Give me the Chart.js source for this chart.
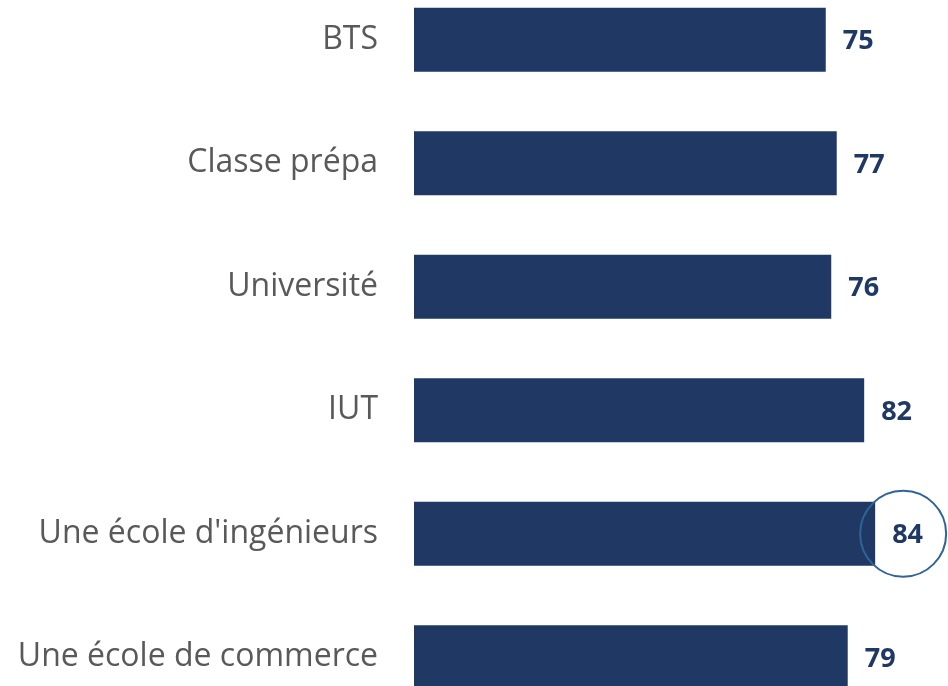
<!DOCTYPE html>
<html>
<head>
<meta charset="utf-8">
<script src="https://cdn.jsdelivr.net/npm/chart.js@4/dist/chart.umd.min.js"></script>
<style>
  html, body { margin: 0; padding: 0; background: #ffffff; overflow: hidden; width: 948px; height: 686px; }
  #wrap { position: absolute; left: 0; top: -22px; width: 963px; height: 741px; }
</style>
</head>
<body>
<div id="wrap"><canvas id="c"></canvas></div>
<script>
const categories = ['BTS', 'Classe prépa', 'Université', 'IUT', "Une école d'ingénieurs", 'Une école de commerce'];
const values = [75, 77, 76, 82, 84, 79];
const highlighted = ["Une école d'ingénieurs"];

const NAVY = '#203864';

const valueLabels = {
  id: 'valueLabels',
  afterDatasetsDraw(chart) {
    const ctx = chart.ctx;
    const meta = chart.getDatasetMeta(0);
    const xs = chart.scales.x;
    ctx.save();
    ctx.font = 'bold 27px "Open Sans"';
    ctx.fillStyle = NAVY;
    ctx.textAlign = 'left';
    ctx.textBaseline = 'middle';
    meta.data.forEach((bar, i) => {
      const xEnd = xs.getPixelForValue(values[i]);
      ctx.fillText(String(values[i]), xEnd + 17, bar.y + 2);
      if (highlighted.includes(categories[i])) {
        ctx.beginPath();
        ctx.strokeStyle = '#2F6497';
        ctx.lineWidth = 2;
        ctx.arc(xEnd + 28, bar.y, 43, 0, Math.PI * 2);
        ctx.stroke();
      }
    });
    ctx.restore();
  }
};

new Chart(document.getElementById('c'), {
  type: 'bar',
  data: {
    labels: categories,
    datasets: [{
      data: values,
      backgroundColor: NAVY,
      borderWidth: 0,
      barPercentage: 0.52,
      categoryPercentage: 1.0
    }]
  },
  options: {
    indexAxis: 'y',
    responsive: true,
    maintainAspectRatio: false,
    devicePixelRatio: 1,
    animation: false,
    layout: { padding: 0 },
    plugins: { legend: { display: false }, tooltip: { enabled: false } },
    scales: {
      x: { display: false, min: 0, max: 100 },
      y: {
        grid: { display: false, drawTicks: false },
        border: { display: false },
        ticks: { color: '#595959', font: { family: 'Open Sans', size: 32 }, padding: 36 },
        afterFit(scale) { scale.width = 414; scale.paddingTop = 0; scale.paddingBottom = 0; }
      }
    }
  },
  plugins: [valueLabels]
});
</script>
</body>
</html>
